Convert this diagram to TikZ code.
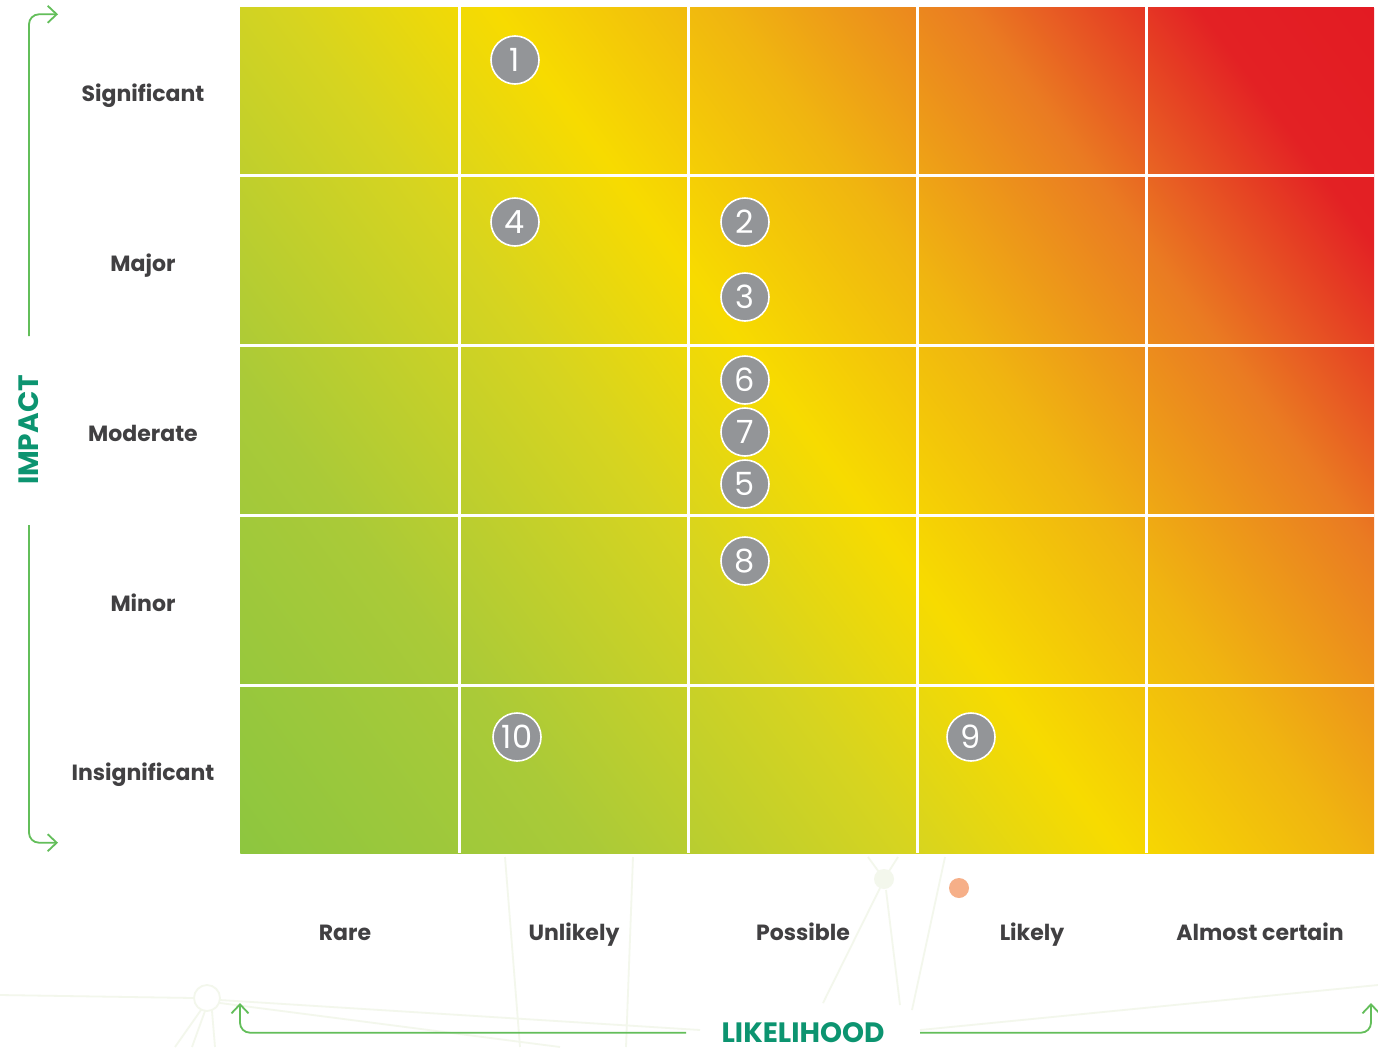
\documentclass[tikz,border=0pt]{standalone}
\usepackage{fontspec}
\setmainfont{Poppins}
\usetikzlibrary{arrows.meta}
\definecolor{txt}{HTML}{414042}
\definecolor{axisgreen}{HTML}{63BE5A}
\definecolor{titlegreen}{HTML}{0C9470}
\definecolor{markgray}{HTML}{939598}
\definecolor{faint}{HTML}{F3F7EC}
\definecolor{dotorange}{HTML}{F6AF88}
\definecolor{gA}{HTML}{8DC63F}
\definecolor{gB}{HTML}{AACA38}
\definecolor{gC}{HTML}{D6D420}
\definecolor{gD}{HTML}{F7DB00}
\definecolor{gE}{HTML}{F0B510}
\definecolor{gF}{HTML}{EA7B22}
\definecolor{gG}{HTML}{E32124}
\definecolor{gH}{HTML}{E31B23}
\pgfdeclarehorizontalshading{risk}{100bp}{color(0bp)=(gA); color(25bp)=(gA); color(35bp)=(gB); color(44bp)=(gC); color(50bp)=(gD); color(56.5bp)=(gE); color(63.5bp)=(gF); color(70bp)=(gG); color(75bp)=(gH); color(100bp)=(gH)}
\tikzset{
  rowlab/.style={text=txt, font=\bfseries\fontsize{22}{26}\selectfont, inner sep=0pt, anchor=base},
  collab/.style={text=txt, font=\bfseries\fontsize{22}{26}\selectfont, inner sep=0pt, anchor=base},
  axtitle/.style={text=titlegreen, font=\bfseries\fontsize{28}{32}\selectfont, inner sep=0pt},
  marker/.style={circle, fill=markgray, draw=white, line width=1.6pt, minimum size=48pt, inner sep=0pt, text=white, font=\fontsize{32}{32}\selectfont},
  axisline/.style={axisgreen, line width=1.8pt, rounded corners=10pt, -{Straight Barb[length=9pt,width=17pt]}},
  gridline/.style={white, line width=3pt},
  faintline/.style={faint, line width=1.8pt}
}
\begin{document}
\begin{tikzpicture}[x=1pt,y=-1pt]
\useasboundingbox (0,0) rectangle (1378,1047);
\fill[white] (0,0) rectangle (1378,1047);
% faint background network
\draw[faintline] (0,995) -- (194,998);
\draw[faintline] (220,1000) -- (700,1030);
\draw[faintline] (220,1003) -- (560,1047);
\draw[faintline] (920,1030) -- (1378,985);
\draw[faintline] (201,1010) -- (175,1047);
\draw[faintline] (212,1011) -- (215,1047);
\draw[faintline] (205,1011) -- (192,1047);
\draw[faintline] (884,879) -- (868,857);
\draw[faintline] (884,879) -- (898,857);
\draw[faintline] (880,888) -- (823,1003);
\draw[faintline] (886,890) -- (900,1005);
\draw[faintline] (945,857) -- (912,1010);
\draw[faintline] (505,857) -- (520,1047);
\draw[faintline] (633,857) -- (626,1047);
\draw[faint, line width=1.8pt, fill=white] (207,998) circle (13);
\fill[faint] (884,879) circle (10);
% gradient matrix
\begin{scope}
  \clip (240,7) rectangle (1374,853);
  \begin{scope}[transform canvas={rotate around={36.6:(807,430)}}]
    \shade[shading=risk] (99.6,-290) rectangle (1514.4,1150);
  \end{scope}
\end{scope}
\foreach \gx in {459.5,688.5,917.5,1146.5} \draw[gridline] (\gx,7) -- (\gx,853);
\foreach \gy in {175.5,345.5,515.5,685.5} \draw[gridline] (240,\gy) -- (1374,\gy);
% row labels
\node[rowlab] (r1) at (143,101.5) {Significant};
\node[rowlab] (r2) at (143,271.5) {Major};
\node[rowlab] (r3) at (143,441.5) {Moderate};
\node[rowlab] (r4) at (143,611.5) {Minor};
\node[rowlab] (r5) at (143,780.5) {Insignificant};
% column labels
\node[collab] (c1) at (345,940.5) {Rare};
\node[collab] (c2) at (574,940.5) {Unlikely};
\node[collab] (c3) at (803,940.5) {Possible};
\node[collab] (c4) at (1032,940.5) {Likely};
\node[collab] (c5) at (1260,940.5) {Almost certain};
% axis titles
\node[axtitle, rotate=90] (impact) at (29,430) {IMPACT};
\node[axtitle] (likelihood) at (803,1032.5) {LIKELIHOOD};
% axis arrows
\coordinate (a1s) at (29,336);
\coordinate (a1c) at (29,14.3);
\coordinate (a1e) at (58,14.3);
\coordinate (a2s) at (29,525);
\coordinate (a2c) at (29,842.7);
\coordinate (a2e) at (58,842.7);
\coordinate (b1s) at (686,1032.7);
\coordinate (b1c) at (240,1032.7);
\coordinate (b1e) at (240,1003);
\coordinate (b2s) at (920,1032.7);
\coordinate (b2c) at (1371,1032.7);
\coordinate (b2e) at (1371,1003);
\draw[axisline] (a1s) -- (a1c) -- (a1e);
\draw[axisline] (a2s) -- (a2c) -- (a2e);
\draw[axisline] (b1s) -- (b1c) -- (b1e);
\draw[axisline] (b2s) -- (b2c) -- (b2e);
% orange dot
\fill[dotorange] (959,888) circle (10);
% risk markers
\node[marker] (m1) at (515,60) {1};
\node[marker] (m4) at (515,222) {4};
\node[marker] (m2) at (745,222) {2};
\node[marker] (m3) at (745,297) {3};
\node[marker] (m6) at (745,380) {6};
\node[marker] (m7) at (745,432) {7};
\node[marker] (m5) at (745,484) {5};
\node[marker] (m8) at (745,561) {8};
\node[marker] (m10) at (517,737) {10};
\node[marker] (m9) at (971,737) {9};
\end{tikzpicture}
\end{document}
